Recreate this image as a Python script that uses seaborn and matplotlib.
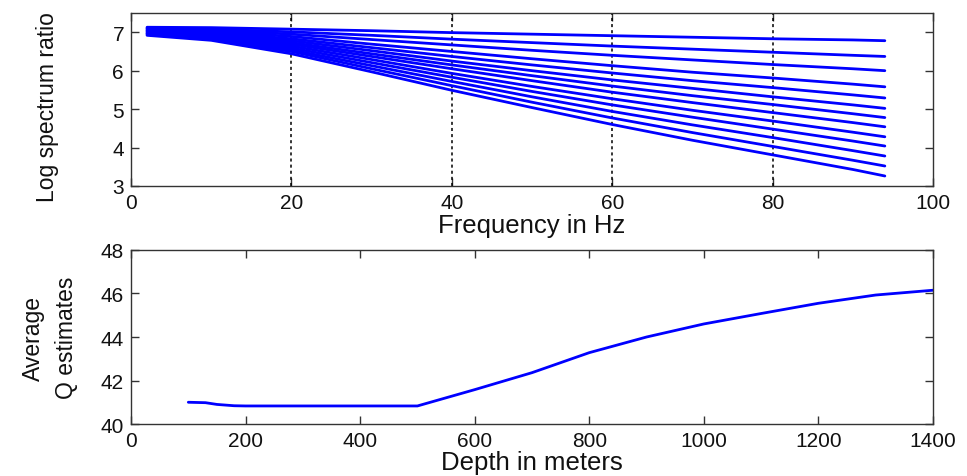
import numpy as np
import pandas as pd
import matplotlib
matplotlib.use("Agg")
import matplotlib.pyplot as plt
import seaborn as sns

# --- data ---
freq = [2, 10, 20, 30, 40, 50, 60, 70, 80, 90, 94]

ratio_lines = [
    [7.13, 7.12, 7.08, 7.04, 6.99, 6.95, 6.91, 6.87, 6.83, 6.80, 6.78],
    [7.11, 7.08, 7.01, 6.92, 6.82, 6.73, 6.64, 6.56, 6.48, 6.40, 6.37],
    [7.10, 7.06, 6.95, 6.81, 6.67, 6.53, 6.40, 6.28, 6.16, 6.05, 6.00],
    [7.08, 7.03, 6.89, 6.69, 6.50, 6.31, 6.13, 5.96, 5.81, 5.65, 5.58],
    [7.06, 7.00, 6.83, 6.60, 6.37, 6.15, 5.94, 5.74, 5.56, 5.37, 5.29],
    [7.04, 6.97, 6.78, 6.52, 6.25, 6.00, 5.76, 5.54, 5.32, 5.11, 5.02],
    [7.03, 6.95, 6.73, 6.44, 6.15, 5.87, 5.60, 5.35, 5.12, 4.88, 4.78],
    [7.01, 6.92, 6.69, 6.37, 6.05, 5.74, 5.44, 5.17, 4.91, 4.65, 4.54],
    [6.99, 6.90, 6.64, 6.29, 5.93, 5.59, 5.27, 4.97, 4.69, 4.40, 4.28],
    [6.97, 6.87, 6.59, 6.21, 5.83, 5.46, 5.11, 4.79, 4.48, 4.17, 4.04],
    [6.96, 6.84, 6.54, 6.13, 5.72, 5.32, 4.94, 4.59, 4.26, 3.92, 3.78],
    [6.94, 6.82, 6.50, 6.05, 5.61, 5.18, 4.77, 4.39, 4.03, 3.67, 3.52],
    [6.92, 6.79, 6.44, 5.97, 5.49, 5.04, 4.60, 4.19, 3.81, 3.43, 3.26],
]

grid_freqs = [20, 40, 60, 80]

depth = [100, 130, 150, 180, 200, 300, 400, 500, 600, 700, 800, 900, 1000, 1100, 1200, 1300, 1400]
q_avg = [41.0, 40.98, 40.9, 40.84, 40.83, 40.83, 40.83, 40.83, 41.58, 42.36, 43.28,
         44.0, 44.6, 45.08, 45.55, 45.93, 46.15]

# --- long table for the spectrum ratio lines ---
rows = []
for i, vals in enumerate(ratio_lines):
    for f, v in zip(freq, vals):
        rows.append({"line": i, "freq": f, "ratio": v})
df = pd.DataFrame(rows)

sns.set_style("ticks")
plt.rcParams["font.family"] = ["Liberation Sans", "DejaVu Sans"]
plt.rcParams["axes.edgecolor"] = "#333333"
plt.rcParams["axes.linewidth"] = 1.0
plt.rcParams["xtick.color"] = "#333333"
plt.rcParams["ytick.color"] = "#333333"
plt.rcParams["xtick.labelcolor"] = "#111111"
plt.rcParams["ytick.labelcolor"] = "#111111"
plt.rcParams["axes.labelcolor"] = "#111111"

fig = plt.figure(figsize=(9.67, 4.77), dpi=100)
ax1 = fig.add_axes([0.1355, 0.608, 0.8293, 0.3626])
ax2 = fig.add_axes([0.1355, 0.109, 0.8293, 0.3648])

# --- top: log spectrum ratio ---
for f in grid_freqs:
    ax1.axvline(f, color="black", linestyle=(0, (2, 2)), linewidth=1.1, zorder=1)
sns.lineplot(data=df, x="freq", y="ratio", units="line", estimator=None,
             color="#0000ff", linewidth=2.0, ax=ax1, zorder=2)
ax1.set_xlim(0, 100)
ax1.set_ylim(3, 7.5)
ax1.set_xticks([0, 20, 40, 60, 80, 100])
ax1.set_yticks([3, 4, 5, 6, 7])
ax1.set_xlabel("Frequency in Hz", fontsize=18.5, labelpad=1)
ax1.set_ylabel("Log spectrum ratio", fontsize=16.5)
ax1.yaxis.set_label_coords(-0.09, 0.46)

# --- bottom: average Q ---
sns.lineplot(x=depth, y=q_avg, color="#0000ff", linewidth=2.0, ax=ax2)
ax2.set_xlim(0, 1400)
ax2.set_ylim(40, 48)
ax2.set_xticks([0, 200, 400, 600, 800, 1000, 1200, 1400])
ax2.set_yticks([40, 42, 44, 46, 48])
ax2.set_xlabel("Depth in meters", fontsize=18.5, labelpad=0)
ax2.set_ylabel("Average\nQ estimates", fontsize=16.5, linespacing=1.55)
ax2.yaxis.set_label_coords(-0.066, 0.5)

for ax in (ax1, ax2):
    ax.tick_params(direction="in", length=6, width=1.0, top=True, right=True,
                   labelsize=15, pad=5)
    for s in ax.spines.values():
        s.set_visible(True)

fig.savefig("out.png", dpi=100)
